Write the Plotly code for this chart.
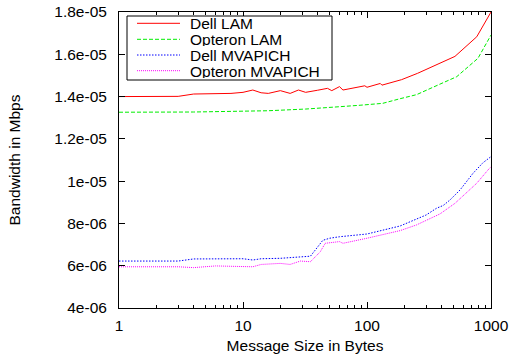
import plotly.graph_objects as go

# ---- data ----
names = ["Dell LAM", "Opteron LAM", "Dell MVAPICH", "Opteron MVAPICH"]
colors = ["#ff0000", "#00ee00", "#0000ff", "#ff00ff"]
dashes = ["solid", "4px,2px", "1.5px,1.5px", "1px,1px"]

x_dell_lam = [1, 2, 3, 4, 6, 8, 10, 12, 14, 16, 20, 24, 28, 32, 40, 48, 52, 60, 64, 80, 96, 100,
              128, 132, 190, 256, 384, 512, 768, 1000]
y_dell_lam = [1.400e-5, 1.400e-5, 1.401e-5, 1.412e-5, 1.414e-5, 1.415e-5, 1.420e-5, 1.431e-5, 1.418e-5,
              1.415e-5, 1.428e-5, 1.415e-5, 1.431e-5, 1.420e-5, 1.430e-5, 1.439e-5, 1.428e-5, 1.447e-5,
              1.431e-5, 1.442e-5, 1.451e-5, 1.444e-5, 1.462e-5, 1.454e-5, 1.480e-5, 1.510e-5, 1.555e-5,
              1.590e-5, 1.683e-5, 1.800e-5]

x_opt_lam = [1, 2, 4, 8, 16, 32, 42, 60, 88, 134, 185, 251, 388, 529, 785, 1000]
y_opt_lam = [1.326e-5, 1.326e-5, 1.327e-5, 1.330e-5, 1.333e-5, 1.341e-5, 1.347e-5, 1.352e-5, 1.359e-5,
             1.368e-5, 1.390e-5, 1.409e-5, 1.459e-5, 1.494e-5, 1.581e-5, 1.691e-5]

x_dell_mv = [1, 3, 4, 8, 10, 12, 14, 20, 25, 30, 35, 44, 50, 60, 100, 185, 251, 300, 364, 412, 467,
             562, 716, 861, 1000]
y_dell_mv = [6.22e-6, 6.22e-6, 6.32e-6, 6.35e-6, 6.33e-6, 6.27e-6, 6.33e-6, 6.35e-6, 6.38e-6, 6.42e-6,
             6.45e-6, 7.20e-6, 7.30e-6, 7.37e-6, 7.50e-6, 7.88e-6, 8.21e-6, 8.40e-6, 8.72e-6, 8.85e-6,
             9.11e-6, 9.58e-6, 10.37e-6, 10.87e-6, 11.16e-6]

x_opt_mv = [1, 3, 4, 6, 12, 14, 20, 24, 29, 35, 42, 46, 60, 64, 100, 185, 251, 388, 512, 767, 946, 1000]
y_opt_mv = [5.95e-6, 5.95e-6, 5.91e-6, 5.99e-6, 5.95e-6, 6.06e-6, 6.11e-6, 6.06e-6, 6.22e-6, 6.19e-6,
            6.66e-6, 7.06e-6, 7.14e-6, 7.06e-6, 7.30e-6, 7.66e-6, 7.93e-6, 8.45e-6, 8.95e-6, 9.90e-6,
            10.53e-6, 10.68e-6]

x_tick_vals = [1, 10, 100, 1000]
x_tick_text = ["1", "10", "100", "1000"]
x_minor_vals = [m * d for d in (1, 10, 100) for m in range(2, 10)]
y_tick_vals = [4e-6, 6e-6, 8e-6, 1e-5, 1.2e-5, 1.4e-5, 1.6e-5, 1.8e-5]
y_tick_text = ["4e-06", "6e-06", "8e-06", "1e-05", "1.2e-05", "1.4e-05", "1.6e-05", "1.8e-05"]

series = [(x_dell_lam, y_dell_lam), (x_opt_lam, y_opt_lam), (x_dell_mv, y_dell_mv), (x_opt_mv, y_opt_mv)]

FONT = "Liberation Sans, Arial, sans-serif"
FS = 15.5

fig = go.Figure()
for (xs, ys), n, c, d in zip(series, names, colors, dashes):
    fig.add_trace(go.Scatter(x=xs, y=ys, name=n, mode="lines",
                             line=dict(color=c, width=1, dash=d), showlegend=False))

# manual gnuplot-style key (pixel positions converted to paper coords)
L, R, T, B = 119, 491, 12, 308
def px(xp):
    return (xp - L) / (R - L)
def py(yp):
    return (B - yp) / (B - T)

shapes = [dict(type="rect", xref="paper", yref="paper", x0=px(127), x1=px(332), y0=py(80), y1=py(16),
               line=dict(color="black", width=1), fillcolor="white", layer="above")]
annotations = []
row_y = [23.3, 39.3, 55.0, 70.7]
for n, c, d, ry in zip(names, colors, dashes, row_y):
    shapes.append(dict(type="line", xref="paper", yref="paper", x0=px(137), x1=px(180), y0=py(ry), y1=py(ry),
                       line=dict(color=c, width=1, dash=d), layer="above"))
    annotations.append(dict(text=n, xref="paper", yref="paper", x=px(189), y=py(ry), xanchor="left",
                            yanchor="middle", showarrow=False, height=14, valign="middle",
                            borderpad=0, font=dict(family=FONT, size=FS, color="black")))

fig.update_layout(
    width=510, height=360,
    margin=dict(l=L, r=510 - R, t=T, b=360 - B),
    paper_bgcolor="white", plot_bgcolor="white",
    font=dict(family=FONT, size=FS, color="black"),
    shapes=shapes, annotations=annotations,
    xaxis=dict(type="log", range=[0, 3], tickmode="array", tickvals=x_tick_vals, ticktext=x_tick_text,
               ticks="inside", ticklen=6, tickcolor="black", showline=True, linecolor="black", linewidth=1,
               mirror="allticks", showgrid=False, zeroline=False, automargin=False, ticklabelstandoff=3,
               tickfont=dict(size=FS),
               minor=dict(tickmode="array", tickvals=x_minor_vals, ticks="inside", ticklen=3,
                          tickcolor="black", showgrid=False),
               title=dict(text="Message Size in Bytes", standoff=7, font=dict(size=FS))),
    yaxis=dict(range=[4e-6, 1.8e-5], tickmode="array", tickvals=y_tick_vals, ticktext=y_tick_text,
               ticks="inside", ticklen=6, tickcolor="black", showline=True, linecolor="black", linewidth=1,
               mirror="allticks", showgrid=False, zeroline=False, ticklabelstandoff=8, automargin=False,
               tickfont=dict(size=FS),
               title=dict(text="Bandwidth in Mbps", standoff=29, font=dict(size=FS))),
)

fig.write_html("out.html")
